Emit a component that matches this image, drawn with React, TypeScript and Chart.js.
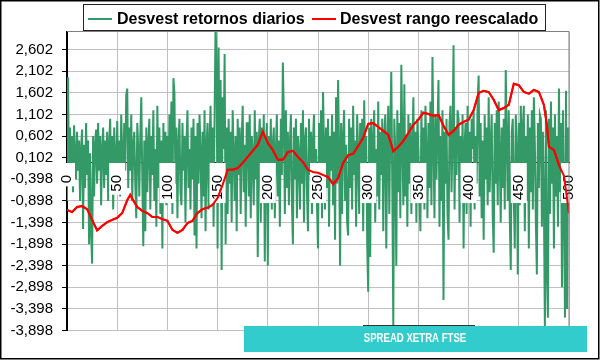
import React, { useEffect, useRef } from 'react';
import { Chart, registerables } from 'chart.js';

Chart.register(...registerables);

const CHART_TITLE = 'SPREAD XETRA FTSE';
const SERIES_NAMES = ['Desvest retornos diarios', 'Desvest rango reescalado'];
const SERIES_COLORS = ['#339966', '#ff0000'];

const X_TICKS = [0, 50, 100, 150, 200, 250, 300, 350, 400, 450, 500];
const Y_TICKS = [-3.898, -3.398, -2.898, -2.398, -1.898, -1.398, -0.898, -0.398, 0.102, 0.602, 1.102, 1.602, 2.102, 2.602];

// Desvest retornos diarios (index 0..500)
const GREEN = [
  -0.9, 1.96, -0.5, 0.8, -0.3, 0.6, -0.7, 0.85, 0.2, -0.4, 0.7, -0.2, 0.5, -0.9, 0.3, 0.75, -1.55, 0.4, -0.6, 0.9,
  -0.3, 0.5, -1.9, 0.2, -1.6, -2.35, 0.6, -0.8, 0.4, 0.75, -0.5, 0.9, -0.2, 0.6, -1.0, 0.3, 0.8, -0.6, 0.5, -0.3,
  0.7, -0.9, 0.4, 1.0, -0.4, 0.6, -1.1, 0.8, 0.1, -0.7, 0.95, -0.3, 0.5, -0.8, 1.1, 0.2, -0.5, 0.9, -0.2, 1.55,
  1.7, -0.6, 0.8, -0.2, 1.1, -0.9, 0.4, 0.7, -0.5, -1.3, 0.9, 0.3, -0.8, 0.6, 1.5, -0.4, -1.95, 0.5, -1.6, 0.8,
  -0.7, 0.4, 1.0, -1.1, 0.6, -0.3, 1.2, -0.9, 0.3, -1.5, 1.3, -0.6, 0.8, -1.2, 0.5, -2.0, 0.9, -0.4, 0.7, -1.0,
  0.6, -0.8, 1.1, -0.3, 1.4, -1.2, 1.94, 1.6, -0.5, 0.8, -1.3, 0.4, 1.0, -0.7, -1.0, 0.9, -0.2, 0.6, -1.4, 0.5,
  1.2, -0.6, 0.3, -1.1, 0.8, -0.4, 1.0, -1.7, 0.6, -2.0, 0.9, -0.5, 1.1, 0.2, -1.3, 0.7, -0.8, 1.2, -1.6, 0.4,
  0.9, -1.1, 0.5, 1.3, -0.7, 0.8, -1.5, 1.1, 3.2, 2.2, -2.0, 2.65, -0.8, 1.9, -2.5, 1.5, 0.3, 2.5, -1.9, 0.8,
  -1.2, 1.0, -0.5, 0.7, -1.4, 1.2, 0.2, -0.9, 0.6, -1.6, 1.0, -0.3, 0.8, -1.2, 0.5, 1.3, -0.7, 0.4, -1.5, 0.9,
  0.9, -0.8, 1.1, -1.3, 0.6, 0.2, -1.0, 1.2, -0.4, 0.7, -2.2, 0.5, 1.0, -1.4, 0.8, -0.6, 1.1, -2.3, 0.3, 0.9,
  -2.4, 0.6, -0.5, 1.0, -1.1, 0.4, 0.8, -1.3, 0.2, 1.1, -0.8, 0.5, -1.5, 1.0, -0.3, 2.3, 1.0, -1.2, 1.2, -0.6,
  0.7, -1.0, 0.4, 1.1, -0.9, -1.9, 0.8, -0.4, 1.0, -1.3, 0.6, 0.2, -1.1, 0.9, -0.5, 1.2, -1.4, 0.5, 0.8, -0.7,
  -1.6, 1.0, -0.3, 0.7, -1.2, 0.5, 1.1, -0.8, 0.3, -1.0, -2.0, 0.9, -0.4, 1.2, -1.3, 1.62, 0.4, -1.1, 0.8, -0.6,
  1.0, -1.5, 0.6, -0.2, 1.1, -1.0, 0.7, -1.8, 1.5, -0.5, 1.9, 0.3, -2.4, 0.9, -1.2, 0.6, 1.2, -0.9, 0.4, -1.4,
  -1.7, 1.0, -0.6, 0.8, -1.1, 1.3, -0.3, 0.5, -1.5, 1.1, 0.2, -1.2, 0.9, -0.7, 1.0, -1.6, 1.43, -0.4, 0.6, -1.9,
  -3.0, 0.8, -2.2, 1.0, -0.9, 0.5, 1.2, -1.4, 0.3, -0.8, 1.4, -1.1, 0.7, -0.3, 1.0, -1.6, 0.6, 1.1, -2.0, 0.4,
  1.3, -1.2, 0.8, 2.08, -0.6, -3.78, 1.0, 0.2, -2.4, 1.2, -0.7, 0.9, -1.3, 2.25, 0.5, -1.0, 1.8, -0.8, 0.6, -1.5,
  1.1, -0.5, 0.9, -1.2, 0.4, 1.5, -0.9, 0.7, -1.4, 1.0, 0.3, -0.8, -1.6, 1.2, -0.4, 0.8, -1.1, 1.3, 0.2, -1.3,
  0.9, -0.6, 1.4, -1.0, 2.43, 0.5, -1.3, 1.1, -0.4, 0.8, 1.9, -1.5, 0.6, -0.9, 1.2, -3.19, 0.7, -0.5, 1.0, -1.2,
  -1.8, 0.9, 1.3, -0.7, 0.5, 2.7, -1.1, 0.8, -0.3, 1.2, 1.0, -1.4, 0.6, -0.8, 1.1, -2.0, 0.4, 0.9, -1.2, 1.3,
  -0.9, 0.7, -1.5, 1.0, 0.3, 1.2, -1.1, 0.6, -0.5, 1.4, 2.0, -0.8, 0.9, -1.3, 0.5, -1.8, 1.1, -0.4, 0.8, -1.0,
  1.5, -0.7, 0.4, 1.1, -1.2, -2.1, 0.9, -0.5, 1.2, -1.0, 1.4, 0.2, -1.4, 0.8, -0.6, 1.0, -1.1, 2.13, 0.5, -0.9,
  1.2, -1.3, -2.5, 0.7, 1.0, -0.8, -2.0, 1.1, 0.3, -2.6, 0.9, -1.0, 1.3, -0.5, 0.8, 1.3, -1.6, 0.6, -0.9, 1.1,
  -2.0, 0.8, -0.7, 1.2, -1.1, 1.5, 0.4, -1.4, -2.6, 0.9, -0.6, 1.1, 1.0, -1.5, 0.7, -0.9, -3.9, 1.2, -2.5, -3.6,
  1.0, -1.2, 1.4, -0.5, 0.8, -2.0, 1.1, -0.8, 0.6, -1.5, 1.7, -0.7, 0.9, -2.9, 1.2, -1.0, -3.6, 1.65, -3.4, 0.8,
  -0.6,
];

// Desvest rango reescalado
const RED_X = [
  0, 5, 10, 15, 20, 25, 30, 35, 40, 45, 50, 55, 60, 63, 65, 70, 75, 80, 85, 90, 95, 100, 105, 110, 115, 120,
  125, 130, 135, 140, 145, 150, 155, 160, 165, 170, 175, 180, 185, 190, 195, 200, 205, 210, 215, 220, 225, 230,
  235, 240, 245, 250, 255, 260, 265, 270, 275, 280, 285, 290, 295, 300, 305, 310, 315, 320, 325, 330, 335, 340,
  345, 350, 355, 360, 365, 370, 375, 380, 385, 390, 395, 400, 405, 410, 415, 420, 425, 430, 435, 440, 445, 450,
  455, 460, 465, 470, 475, 478, 480, 485, 490, 495, 500,
];
const RED_Y = [
  -1.11, -1.16, -1.04, -1.02, -1.09, -1.34, -1.58, -1.48, -1.39, -1.34, -1.29, -1.18, -0.88, -0.76, -0.85, -1.04,
  -1.13, -1.18, -1.27, -1.27, -1.32, -1.36, -1.57, -1.64, -1.57, -1.41, -1.36, -1.18, -1.09, -1.06, -0.99, -0.83,
  -0.53, -0.18, -0.18, -0.14, -0.02, 0.12, 0.26, 0.4, 0.7, 0.44, 0.28, 0.05, 0.05, 0.23, 0.26, 0.12, 0.0, -0.18,
  -0.23, -0.25, -0.3, -0.35, -0.51, -0.37, -0.02, 0.16, 0.19, 0.37, 0.56, 0.88, 0.9, 0.81, 0.72, 0.63, 0.25, 0.35,
  0.49, 0.67, 0.86, 0.98, 1.14, 1.11, 1.07, 1.09, 0.84, 0.63, 0.72, 0.86, 0.93, 0.98, 1.2, 1.6, 1.65, 1.62, 1.44,
  1.2, 1.25, 1.32, 1.81, 1.78, 1.62, 1.58, 1.67, 1.62, 1.32, 0.86, 0.35, 0.28, -0.07, -0.32, -1.18,
];

const FONT = "'Liberation Sans', Arial, sans-serif";
const fmt = (v: number) => v.toFixed(3).replace('.', ',');

const decorPlugin = {
  id: 'decor',
  beforeDraw(chart: any) {
    const { ctx, width, height } = chart;
    ctx.save();
    ctx.fillStyle = '#ffffff';
    ctx.fillRect(0, 0, width, height);
    ctx.restore();
  },
  afterDatasetsDraw(chart: any) {
    // white panels behind the category labels (drawn over the series, like the original)
    const { ctx } = chart;
    const xs = chart.scales.x;
    const axisY = chart.scales.y.getPixelForValue(0);
    ctx.save();
    ctx.font = `15px ${FONT}`;
    ctx.fillStyle = '#ffffff';
    xs.ticks.forEach((t: any) => {
      const px = xs.getPixelForValue(t.value);
      const w = ctx.measureText(String(t.value)).width;
      ctx.fillRect(px - 8, axisY + 1, 16, 13 + w + 2);
    });
    ctx.restore();
  },
  afterDraw(chart: any) {
    const { ctx, chartArea: a } = chart;
    ctx.save();

    // red series on top of the axis labels
    const meta = chart.getDatasetMeta(1);
    ctx.save();
    ctx.beginPath();
    ctx.rect(a.left, a.top, a.right - a.left, a.bottom - a.top);
    ctx.clip();
    meta.controller.draw();
    ctx.restore();

    // plot area frame (top / right)
    ctx.strokeStyle = '#808080';
    ctx.lineWidth = 1;
    ctx.beginPath();
    ctx.moveTo(a.left, a.top);
    ctx.lineTo(a.right, a.top);
    ctx.lineTo(a.right, a.bottom);
    ctx.stroke();

    // legend
    ctx.fillStyle = '#ffffff';
    ctx.fillRect(83.5, 4.5, 462, 26);
    ctx.strokeStyle = '#222222';
    ctx.strokeRect(83.5, 4.5, 462, 26);
    const lineStarts = [88, 312];
    const textStarts = [117, 340];
    ctx.font = `bold 16px ${FONT}`;
    ctx.textBaseline = 'alphabetic';
    ctx.textAlign = 'left';
    chart.data.datasets.forEach((ds: any, i: number) => {
      ctx.strokeStyle = ds.borderColor;
      ctx.lineWidth = 2;
      ctx.beginPath();
      ctx.moveTo(lineStarts[i], 19);
      ctx.lineTo(lineStarts[i] + 24, 19);
      ctx.stroke();
      ctx.fillStyle = '#000000';
      ctx.fillText(ds.label, textStarts[i], 24);
    });

    // title band
    ctx.strokeStyle = '#333333';
    ctx.lineWidth = 1;
    ctx.beginPath();
    ctx.moveTo(363, 325.5);
    ctx.lineTo(475, 325.5);
    ctx.stroke();
    ctx.fillStyle = '#33cccc';
    ctx.fillRect(244, 326, 343, 26);
    ctx.save();
    ctx.translate(415, 342);
    ctx.scale(0.8, 1);
    ctx.font = `bold 12px ${FONT}`;
    ctx.fillStyle = '#ffffff';
    ctx.textAlign = 'center';
    ctx.textBaseline = 'alphabetic';
    ctx.fillText(CHART_TITLE, 0, 0);
    ctx.restore();

    // outer frame
    ctx.strokeStyle = '#000000';
    ctx.lineWidth = 1.5;
    ctx.strokeRect(0.75, 0.75, 598, 358);
    ctx.restore();
  },
};

export default function App() {
  const ref = useRef<HTMLCanvasElement | null>(null);

  useEffect(() => {
    if (!ref.current) return;
    const chart = new Chart(ref.current, {
      type: 'line',
      data: {
        datasets: [
          {
            label: SERIES_NAMES[0],
            data: GREEN.map((y, i) => ({ x: i, y })),
            borderColor: SERIES_COLORS[0],
            backgroundColor: SERIES_COLORS[0],
            borderWidth: 2,
            pointRadius: 0,
            tension: 0,
            order: 2,
          },
          {
            label: SERIES_NAMES[1],
            data: RED_X.map((x, k) => ({ x, y: RED_Y[k] })),
            borderColor: SERIES_COLORS[1],
            backgroundColor: SERIES_COLORS[1],
            borderWidth: 2,
            pointRadius: 0,
            tension: 0,
            order: 1,
          },
        ],
      },
      options: {
        animation: false,
        responsive: false,
        events: [],
        layout: { padding: { left: 1, right: 17.5, top: 31.5, bottom: 29.5 } },
        plugins: {
          legend: { display: false },
          tooltip: { enabled: false },
          title: { display: false },
        },
        scales: {
          x: {
            type: 'linear',
            min: 0,
            max: 500,
            position: { y: 0 } as any,
            afterBuildTicks: (s: any) => {
              s.ticks = X_TICKS.map((v) => ({ value: v }));
            },
            ticks: {
              autoSkip: false,
              minRotation: 90,
              maxRotation: 90,
              padding: 13,
              z: 1,
              color: '#000000',
              font: { family: FONT, size: 15 },
              callback: (v: any) => String(v),
            },
            grid: { color: '#c0c0c0', lineWidth: 1, drawTicks: false },
            border: { display: true, color: '#000000', width: 1 },
          },
          y: {
            type: 'linear',
            min: -3.898,
            max: 3.02,
            afterBuildTicks: (s: any) => {
              s.ticks = Y_TICKS.map((v) => ({ value: v }));
            },
            afterFit: (s: any) => {
              s.width = 66;
            },
            ticks: {
              autoSkip: false,
              padding: 9,
              color: '#000000',
              font: { family: FONT, size: 15 },
              callback: (v: any) => fmt(Number(v)),
            },
            grid: { color: '#c0c0c0', lineWidth: 1, tickColor: '#000000', tickLength: 5 },
            border: { display: true, color: '#000000', width: 2 },
          },
        },
      },
      plugins: [decorPlugin],
    } as any);
    return () => chart.destroy();
  }, []);

  return (
    <div style={{ position: 'fixed', left: 0, top: 0, width: 600, height: 360, background: '#ffffff' }}>
      <canvas ref={ref} width={600} height={360} style={{ display: 'block' }} />
    </div>
  );
}
